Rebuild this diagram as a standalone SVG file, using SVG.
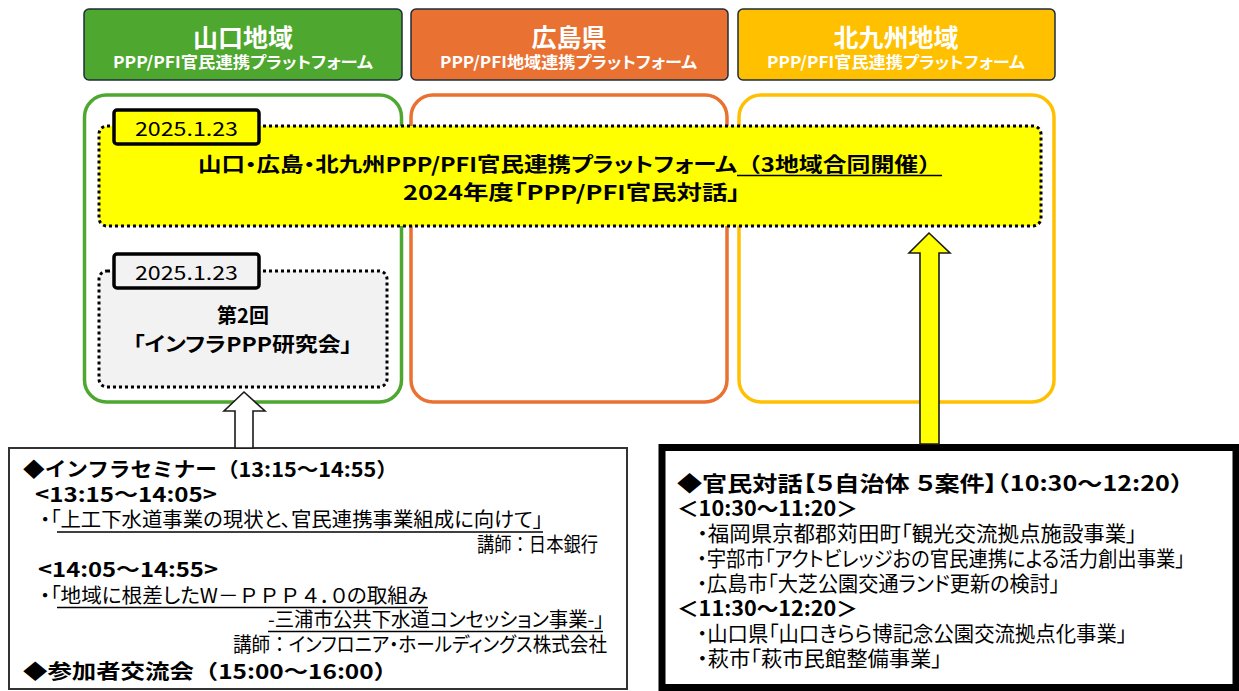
<svg xmlns="http://www.w3.org/2000/svg" width="1239" height="691" viewBox="0 0 1239 691">
<style>
text{font-family:"Noto Sans CJK JP","Noto Sans",sans-serif;font-feature-settings:"palt" 1;fill:#000}
.np{font-feature-settings:normal}
.b{font-weight:700}
.ht{font-size:25px;fill:#fff;font-weight:700;text-anchor:middle}
.hs{font-size:16px;fill:#fff;font-weight:700}
.hdr{stroke:#1e2d3b;stroke-width:1.5}
.panel{fill:#fff;stroke-width:3.5}
.dot{stroke:#000;stroke-width:3;stroke-dasharray:3 3}
.date{stroke:#000;stroke-width:3.5}
.dt{font-size:19px}
.t20{font-size:20px}
.t21{font-size:21px}
.ul{stroke:#000;stroke-width:1.3}
.arr{stroke:#1a1a1a;stroke-width:1.6;stroke-linejoin:miter}
</style>
<rect width="1239" height="691" fill="#fff"/>

<g id="hdr-yamaguchi">
<rect class="hdr" x="84" y="9" width="318" height="71" rx="5" fill="#4ea72e"/>
<text class="ht" x="243" y="47">山口地域</text>
<text class="hs" x="113" y="68" textLength="260" lengthAdjust="spacingAndGlyphs">PPP/PFI官民連携プラットフォーム</text>
</g>
<g id="hdr-hiroshima">
<rect class="hdr" x="411" y="9" width="317" height="71" rx="5" fill="#e97132"/>
<text class="ht" x="569" y="47">広島県</text>
<text class="hs" x="440" y="68" textLength="257" lengthAdjust="spacingAndGlyphs">PPP/PFI地域連携プラットフォーム</text>
</g>
<g id="hdr-kitakyushu">
<rect class="hdr" x="738" y="9" width="317" height="71" rx="5" fill="#ffc000"/>
<text class="ht" x="896" y="47">北九州地域</text>
<text class="hs" x="767" y="68" textLength="258" lengthAdjust="spacingAndGlyphs">PPP/PFI官民連携プラットフォーム</text>
</g>

<g id="panel-yamaguchi"><rect class="panel" x="84.5" y="95" width="317" height="307" rx="22" stroke="#4ea72e"/></g>
<g id="panel-hiroshima"><rect class="panel" x="411" y="95" width="316" height="307" rx="22" stroke="#e97132"/></g>
<g id="panel-kitakyushu"><rect class="panel" x="739" y="95" width="315" height="307" rx="22" stroke="#ffc000"/></g>

<g id="joint-dialogue">
<rect class="dot" x="99" y="126" width="942" height="100" rx="8" fill="#ffff00"/>
<rect class="date" x="114" y="110" width="145" height="34" rx="3" fill="#ffff00"/>
<text class="dt" x="135" y="136" textLength="103" lengthAdjust="spacingAndGlyphs">2025.1.23</text>
<text class="t20 b" x="198" y="172" textLength="539" lengthAdjust="spacingAndGlyphs">山口・広島・北九州PPP/PFI官民連携プラットフォーム</text>
<text class="t20 b np" x="737" y="172" textLength="205" lengthAdjust="spacingAndGlyphs">（3地域合同開催）</text>
<line class="ul" x1="737" y1="175.5" x2="942" y2="175.5"/>
<text class="t20 b" x="403" y="200" textLength="337" lengthAdjust="spacingAndGlyphs">2024年度「PPP/PFI官民対話」</text>
</g>

<g id="infra-study">
<rect class="dot" x="99" y="271" width="288" height="116" rx="8" fill="#f2f2f2"/>
<rect class="date" x="114" y="254" width="145" height="34" rx="3" fill="#f2f2f2"/>
<text class="dt" x="135" y="280" textLength="103" lengthAdjust="spacingAndGlyphs">2025.1.23</text>
<text class="t20 b" x="243" y="323" text-anchor="middle">第2回</text>
<text class="t20 b" x="133" y="352" textLength="219" lengthAdjust="spacingAndGlyphs">「インフラPPP研究会」</text>
</g>

<g id="seminar-box">
<rect x="9" y="448" width="618" height="241" fill="#fff" stroke="#333" stroke-width="2"/>
<text class="t20 b np" x="23" y="477" textLength="375" lengthAdjust="spacingAndGlyphs">◆インフラセミナー（13:15～14:55）</text>
<text class="t20 b" x="35" y="502" textLength="182" lengthAdjust="spacingAndGlyphs">&lt;13:15～14:05&gt;</text>
<text class="t20" x="40" y="527" textLength="503" lengthAdjust="spacingAndGlyphs">・「上工下水道事業の現状と、官民連携事業組成に向けて」</text>
<line class="ul" x1="57" y1="532" x2="543" y2="532"/>
<text class="t20 np" x="477" y="552" textLength="121" lengthAdjust="spacingAndGlyphs">講師：日本銀行</text>
<text class="t20 b" x="38" y="577" textLength="180" lengthAdjust="spacingAndGlyphs">&lt;14:05～14:55&gt;</text>
<text class="t20" x="40" y="603" textLength="388" lengthAdjust="spacingAndGlyphs">・「地域に根差したW<tspan class="np">－ＰＰＰ４</tspan>．０の取組み</text>
<line class="ul" x1="57" y1="607.5" x2="428" y2="607.5"/>
<text class="t20" x="268" y="627" textLength="336" lengthAdjust="spacingAndGlyphs">-三浦市公共下水道コンセッション事業-」</text>
<line class="ul" x1="268" y1="631.5" x2="603" y2="631.5"/>
<text class="t20" x="233" y="652" textLength="374" lengthAdjust="spacingAndGlyphs">講師<tspan class="np">：</tspan>インフロニア・ホールディングス株式会社</text>
<text class="t20 b np" x="23" y="679" textLength="375" lengthAdjust="spacingAndGlyphs">◆参加者交流会（15:00～16:00）</text>
</g>

<g id="dialogue-box">
<rect x="662" y="447.5" width="574" height="240" fill="#fff" stroke="#000" stroke-width="7"/>
<text class="t21 b" x="677" y="491" textLength="518" lengthAdjust="spacingAndGlyphs">◆官民対話【５自治体 ５案件】<tspan class="np">（10:30～12:20）</tspan></text>
<text class="t21 b" x="677" y="516" textLength="181" lengthAdjust="spacingAndGlyphs">＜10:30～11:20＞</text>
<text class="t21" x="697" y="541" textLength="440" lengthAdjust="spacingAndGlyphs">・福岡県京都郡苅田町「観光交流拠点施設事業」</text>
<text class="t21" x="697" y="566" textLength="488" lengthAdjust="spacingAndGlyphs">・宇部市「アクトビレッジおの官民連携による活力創出事業」</text>
<text class="t21" x="697" y="591" textLength="363" lengthAdjust="spacingAndGlyphs">・広島市「大芝公園交通ランド更新の検討」</text>
<text class="t21 b" x="677" y="616" textLength="181" lengthAdjust="spacingAndGlyphs">＜11:30～12:20＞</text>
<text class="t21" x="697" y="641" textLength="430" lengthAdjust="spacingAndGlyphs">・山口県「山口きらら博記念公園交流拠点化事業」</text>
<text class="t21" x="697" y="666" textLength="245" lengthAdjust="spacingAndGlyphs">・萩市「萩市民館整備事業」</text>
</g>

<g id="connectors">
<polygon class="arr" points="235,448 235,411 224,411 244,392 265,411 253,411 253,448" fill="#fff"/>
<polygon class="arr" points="920,444 920,253 909,253 929,233 950,253 939,253 939,444" fill="#ffff00"/>
</g>
</svg>
